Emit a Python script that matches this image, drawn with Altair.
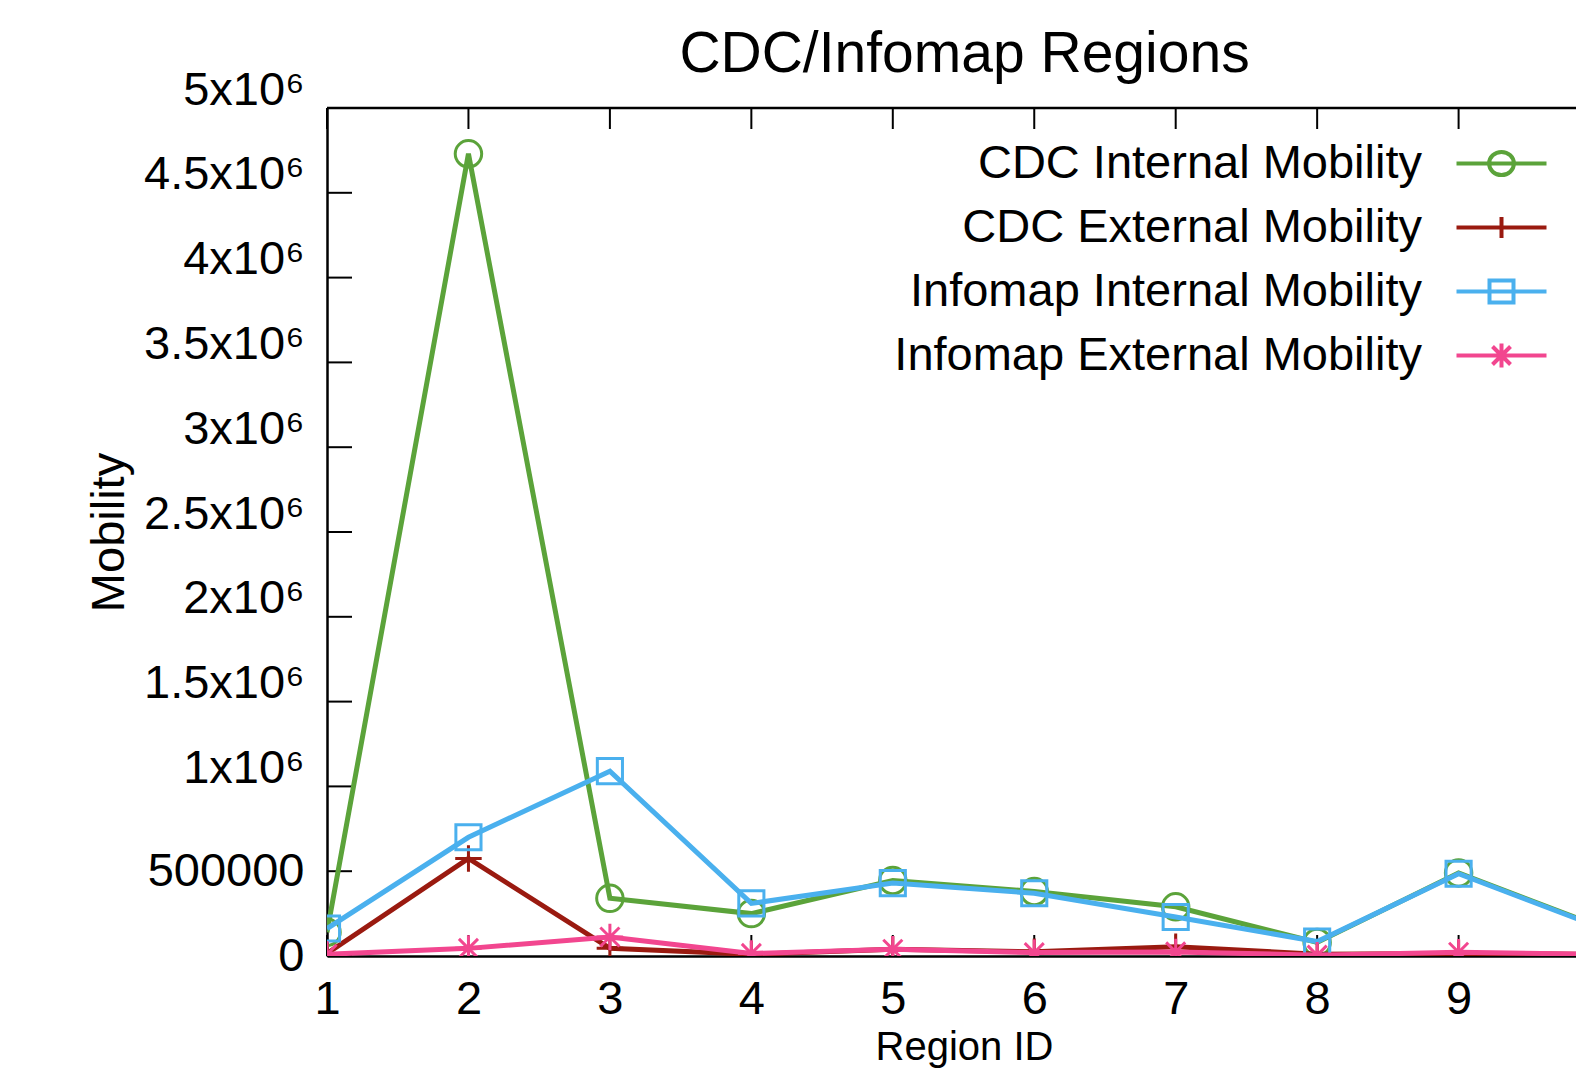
import altair as alt
import pandas as pd

# ---------------- data ----------------
regions = [1, 2, 3, 4, 5, 6, 7, 8, 9, 10]
cdc_internal = [140000, 4730000, 340000, 250000, 445000, 380000, 290000, 80000, 490000, 172000]
cdc_external = [15000, 575000, 45000, 10000, 40000, 25000, 55000, 10000, 15000, 10000]
infomap_internal = [162000, 700000, 1090000, 310000, 430000, 370000, 230000, 85000, 485000, 168000]
infomap_external = [10000, 45000, 112000, 15000, 40000, 20000, 24000, 5000, 22000, 10000]

series_names = ["CDC Internal Mobility", "CDC External Mobility",
                "Infomap Internal Mobility", "Infomap External Mobility"]
series_values = [cdc_internal, cdc_external, infomap_internal, infomap_external]
series_colors = ["#5ba33a", "#9a1a10", "#4ab0ee", "#f2468f"]

y_tick_values = [0, 500000, 1000000, 1500000, 2000000, 2500000,
                 3000000, 3500000, 4000000, 4500000, 5000000]
x_tick_values = [1, 2, 3, 4, 5, 6, 7, 8, 9]
x_domain = [1, 9.83]
y_domain = [0, 5000000]

# ---------------- styling ----------------
W, H = 1249, 848
FONT = "Liberation Sans"
FS = 47

marker_paths = [
    "M1,0A1,1,0,1,1,-1,0A1,1,0,1,1,1,0",
    "M0,-1L0,1M-1,0L1,0",
    "M-0.95,-0.95L0.95,-0.95L0.95,0.95L-0.95,0.95Z",
    "M0,-1L0,1M-1,0L1,0M-0.72,-0.72L0.72,0.72M-0.72,0.72L0.72,-0.72",
]
# legend symbols: sample line + marker (unit = 20 px)
legend_paths = [
    "M-2.25,0L2.25,0M0.62,0A0.62,0.58,0,1,1,-0.62,0A0.62,0.58,0,1,1,0.62,0",
    "M-2.25,0L2.25,0M0,-0.53L0,0.53",
    "M-2.25,0L2.25,0M-0.6,-0.55L0.6,-0.55L0.6,0.55L-0.6,0.55Z",
    "M-2.25,0L2.25,0M0,-0.6L0,0.6M-0.45,-0.45L0.45,0.45M-0.45,0.45L0.45,-0.45",
]

rows = []
for name, vals in zip(series_names, series_values):
    for r, v in zip(regions, vals):
        rows.append({"series": name, "region": r, "value": v})
df = pd.DataFrame(rows)

x_enc = alt.X(
    "region:Q",
    scale=alt.Scale(domain=x_domain, nice=False, zero=False),
    axis=alt.Axis(
        values=x_tick_values, ticks=False, tickSize=0, grid=False,
        domainColor="black", domainWidth=2.5,
        labelFontSize=FS, labelColor="black", labelFlush=False,
        labelBaseline="middle", labelPadding=43,
        title="Region ID", titleFontSize=40, titleFontWeight="normal",
        titleColor="black", titleBaseline="middle", titleAlign="center",
        titleX=637, titleY=91,
    ),
)
y_enc = alt.Y(
    "value:Q",
    scale=alt.Scale(domain=y_domain, nice=False),
    axis=alt.Axis(
        values=y_tick_values, ticks=False, tickSize=0, grid=False,
        domainColor="black", domainWidth=2.5,
        labelExpr="datum.value == 0 ? '0' : datum.value == 500000 ? '500000' : (datum.value / 1000000) + 'x10⁶'",
        labelFontSize=FS, labelColor="black", labelPadding=23,
        labelOffset={"condition": {"test": "datum.value > 500000", "value": -18}, "value": 0},
        title="Mobility", titleFontSize=FS, titleFontWeight="normal",
        titleColor="black", titleAngle=270, titleAlign="center",
        titleBaseline="middle", titleX=-218, titleY=H / 2,
    ),
)

layers = []

# plot frame: top border
frame_df = pd.DataFrame({"k": [0]})
layers.append(
    alt.Chart(frame_df).mark_rule(color="black", strokeWidth=2.5).encode(
        x=alt.value(0), x2=alt.value(W), y=alt.value(0)
    )
)

# inward ticks
ytick_df = pd.DataFrame({"value": y_tick_values})
xtick_df = pd.DataFrame({"region": x_tick_values})
layers.append(
    alt.Chart(ytick_df).mark_rule(color="black", strokeWidth=2).encode(
        y=y_enc, x=alt.value(0), x2=alt.value(25)
    )
)
layers.append(
    alt.Chart(xtick_df).mark_rule(color="black", strokeWidth=2).encode(
        x=x_enc, y=alt.value(H), y2=alt.value(H - 21)
    )
)
layers.append(
    alt.Chart(xtick_df).mark_rule(color="black", strokeWidth=2).encode(
        x=x_enc, y=alt.value(0), y2=alt.value(21)
    )
)

# data series: line + markers, drawn series by series
for name, color, path in zip(series_names, series_colors, marker_paths):
    sub = alt.Chart(df).transform_filter(alt.datum.series == name)
    layers.append(
        sub.mark_line(color=color, strokeWidth=5, clip=True).encode(x=x_enc, y=y_enc)
    )
    layers.append(
        sub.mark_point(shape=path, size=700, filled=False, color=color,
                       strokeWidth=3, opacity=1, clip=True).encode(x=x_enc, y=y_enc)
    )

# legend-only layer
leg = alt.Legend(
    title=None, orient="none", legendX=1151, legendY=32,
    labelAlign="right", labelOffset={"expr": "-103"}, labelLimit=2000,
    labelFontSize=FS, labelFont=FONT, labelColor="black",
    symbolSize=1600, symbolStrokeWidth=4, symbolOffset=0,
    rowPadding=16, padding=0,
)
layers.append(
    alt.Chart(df).transform_filter("false").mark_point(filled=False, opacity=1, strokeWidth=4).encode(
        x=x_enc, y=y_enc,
        color=alt.Color("series:N", scale=alt.Scale(domain=series_names, range=series_colors), legend=leg),
        shape=alt.Shape("series:N", scale=alt.Scale(domain=series_names, range=legend_paths), legend=leg),
    )
)

chart = alt.layer(*layers).properties(
    width=W, height=H,
    title=alt.TitleParams(
        "CDC/Infomap Regions", fontSize=57, font=FONT, fontWeight="normal",
        color="black", anchor="middle", frame="group", baseline="middle",
        offset=8.5, dx=13, dy=54,
    ),
    autosize=alt.AutoSizeParams(type="none"),
    padding={"left": 319, "top": 100, "right": 0, "bottom": 112},
).configure_view(stroke=None).configure_axis(
    labelFont=FONT, titleFont=FONT
).configure(background="white")

chart.save("out.html", embed_options={"renderer": "svg", "actions": False})
